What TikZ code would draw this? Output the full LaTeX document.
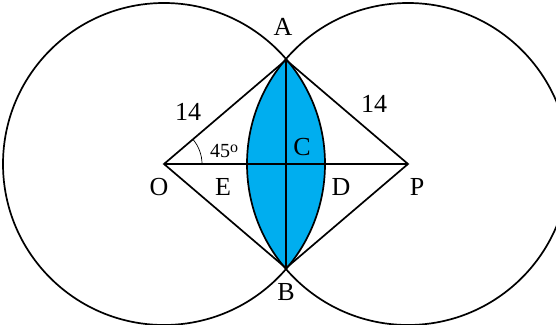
\documentclass[tikz,border=0pt]{standalone}
\usepackage{fontspec}
\setmainfont{Liberation Serif}
\usetikzlibrary{calc}
\definecolor{lens}{HTML}{00AEEF}

\begin{document}
\begin{tikzpicture}[x=1pt,y=1pt,line width=1.7pt,
  lbl/.style={font=\fontsize{26}{30}\selectfont,inner sep=0pt},
  sml/.style={font=\fontsize{20}{24}\selectfont,inner sep=0pt}]
\useasboundingbox (0,0) rectangle (556,324);
\coordinate (O) at (164,160);
\coordinate (P) at (408,160);
\coordinate (A) at (286,264.1);
\coordinate (B) at (286,55.9);
\coordinate (C) at (286,160);
% shaded lens
\begin{scope}
  \clip (O) circle (161);
  \fill[lens] (P) circle (161);
\end{scope}
\begin{scope}
  \clip (0,0) rectangle (556,324);
  \draw (O) circle (161);
  \draw (P) circle (161);
\end{scope}
\draw (O) -- (A) -- (P) -- (B) -- cycle;
\draw (O) -- (P);
\draw (A) -- (B);
\draw[line width=0.7pt] ($(O)+(38,0)$) arc[start angle=0,end angle=40.6,radius=38];
% labels
\node[lbl] (lA) at (283,297) {A};
\node[lbl] (lB) at (286,32) {B};
\node[lbl] (lO) at (159,137) {O};
\node[lbl] (lE) at (223,137) {E};
\node[lbl] (lD) at (341,137) {D};
\node[lbl] (lP) at (417,137) {P};
\node[lbl] (lC) at (302,177) {C};
\node[lbl] (l14a) at (188,212) {14};
\node[lbl] (l14b) at (374,220) {14};
\node[sml] (ang) at (224,173) {45\raisebox{0.5ex}{\fontsize{16}{16}\selectfont o}};
\end{tikzpicture}
\end{document}
